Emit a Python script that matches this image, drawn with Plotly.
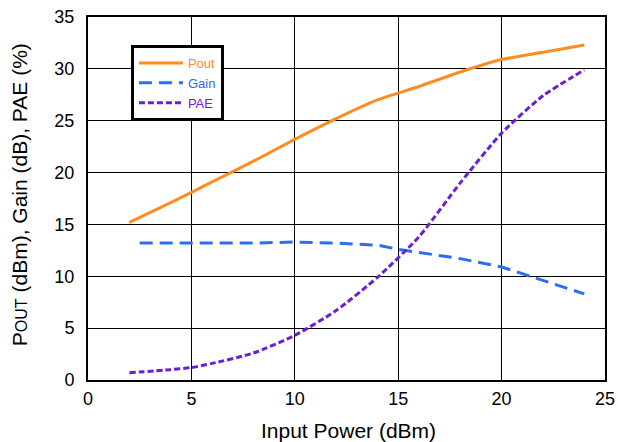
import plotly.graph_objects as go

pout_x = [2, 4, 6, 8, 10, 12, 14, 16, 18, 20, 22, 24]
pout_y = [15.2, 17.1, 19.1, 21.1, 23.2, 25.2, 27.0, 28.3, 29.7, 30.9, 31.6, 32.3]

gain_x = [2.5, 4, 6, 8, 10, 12, 14, 15, 16, 18, 20, 22, 24]
gain_y = [13.2, 13.2, 13.2, 13.2, 13.3, 13.2, 13.0, 12.6, 12.3, 11.7, 10.9, 9.6, 8.3]

pae_x = [2, 4, 5, 6, 8, 10, 12, 14, 16, 18, 20, 22, 24]
pae_y = [0.7, 1.0, 1.2, 1.6, 2.6, 4.3, 6.7, 9.9, 13.8, 19.0, 23.8, 27.4, 29.9]

x_ticks = [0, 5, 10, 15, 20, 25]
y_ticks = [0, 5, 10, 15, 20, 25, 30, 35]

x_title = "Input Power (dBm)"
y_title = "P<span style='font-size:16px'>OUT</span> (dBm), Gain (dB), PAE (%)"

C_POUT = "#FF8C1F"
C_GAIN = "#2A6EF5"
C_PAE = "#6A1ED6"


def colored(name, color):
    return f"<span style='color:{color}'>{name}</span>"


fig = go.Figure()
fig.add_trace(go.Scatter(x=pout_x, y=pout_y, mode="lines", name=colored("Pout", C_POUT),
                         line=dict(color=C_POUT, width=3, shape="spline", smoothing=0.6)))
fig.add_trace(go.Scatter(x=gain_x, y=gain_y, mode="lines", name=colored("Gain", C_GAIN),
                         line=dict(color=C_GAIN, width=3, dash="13px,7px")))
fig.add_trace(go.Scatter(x=pae_x, y=pae_y, mode="lines", name=colored("PAE", C_PAE),
                         line=dict(color=C_PAE, width=3, dash="6px,3px", shape="spline", smoothing=0.6)))

font = "Liberation Sans, Arial, sans-serif"

fig.update_layout(
    width=618, height=442,
    margin=dict(l=88, r=13, t=17, b=62, autoexpand=False),
    paper_bgcolor="white", plot_bgcolor="white",
    font=dict(family=font, color="black", size=18),
    showlegend=True,
    legend=dict(x=0.083, y=0.923, xanchor="left", yanchor="top",
                bgcolor="white", bordercolor="black", borderwidth=3,
                font=dict(size=13), itemwidth=44, tracegroupgap=0),
    xaxis=dict(range=[0, 25], tickvals=x_ticks, showgrid=True, gridcolor="black",
               gridwidth=1, showline=True, linecolor="black", linewidth=2, mirror=True,
               zeroline=False, ticks="", tickfont=dict(size=18), automargin=False,
               ticklabelstandoff=1, ticklabeloverflow="allow"),
    yaxis=dict(range=[0, 35], tickvals=y_ticks, showgrid=True, gridcolor="black",
               gridwidth=1, showline=True, linecolor="black", linewidth=2, mirror=True,
               zeroline=False, ticks="", tickfont=dict(size=18), automargin=False,
               ticklabelstandoff=8, ticklabeloverflow="allow"),
    annotations=[
        dict(text=x_title, xref="paper", yref="paper", x=0.503, y=-0.138,
             xanchor="center", yanchor="middle", showarrow=False, font=dict(size=21)),
        dict(text=y_title, xref="paper", yref="paper", x=-0.131, y=0.51,
             xanchor="center", yanchor="middle", showarrow=False, textangle=-90,
             font=dict(size=21)),
    ],
)

fig.write_html("out.html", config={"displayModeBar": False},
               post_script="document.body.style.margin='0';document.body.style.overflow='hidden';")
